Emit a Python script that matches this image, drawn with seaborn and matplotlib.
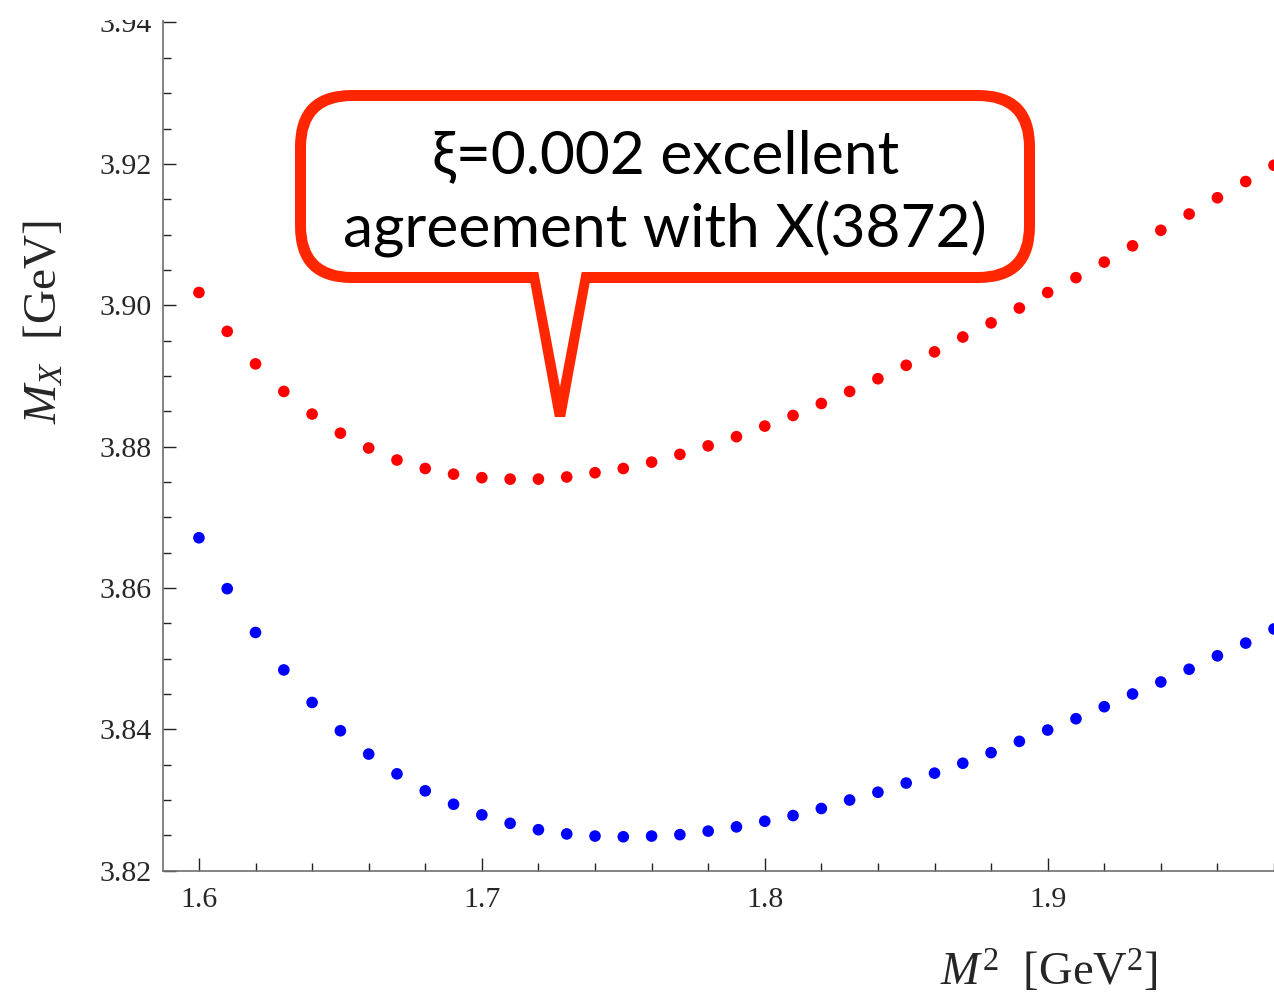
import matplotlib
matplotlib.use("Agg")
import matplotlib.pyplot as plt
import numpy as np
import pandas as pd
import seaborn as sns
from matplotlib.patches import FancyBboxPatch, Polygon
from matplotlib.transforms import Affine2D
from matplotlib.ticker import MultipleLocator, FormatStrFormatter

# Borel parameter M^2 [GeV^2]
m2 = [1.60, 1.61, 1.62, 1.63, 1.64, 1.65, 1.66, 1.67, 1.68, 1.69,
      1.70, 1.71, 1.72, 1.73, 1.74, 1.75, 1.76, 1.77, 1.78, 1.79,
      1.80, 1.81, 1.82, 1.83, 1.84, 1.85, 1.86, 1.87, 1.88, 1.89,
      1.90, 1.91, 1.92, 1.93, 1.94, 1.95, 1.96, 1.97, 1.98]

# Mass of X [GeV], upper (red) and lower (blue) curves
mx_red = [3.9018, 3.8963, 3.8917, 3.8878, 3.8846, 3.8819, 3.8798, 3.8781, 3.8769, 3.8761,
          3.8756, 3.8754, 3.8754, 3.8757, 3.8763, 3.8769, 3.8778, 3.8789, 3.8801, 3.8814,
          3.8829, 3.8844, 3.8861, 3.8878, 3.8896, 3.8915, 3.8934, 3.8955, 3.8975, 3.8996,
          3.9018, 3.9039, 3.9061, 3.9084, 3.9106, 3.9129, 3.9152, 3.9175, 3.9198]
mx_blue = [3.8671, 3.8599, 3.8537, 3.8484, 3.8438, 3.8398, 3.8365, 3.8337, 3.8313, 3.8294,
           3.8279, 3.8267, 3.8258, 3.8252, 3.8249, 3.8248, 3.8249, 3.8251, 3.8256, 3.8262,
           3.8270, 3.8278, 3.8288, 3.8300, 3.8311, 3.8324, 3.8338, 3.8352, 3.8367, 3.8383,
           3.8399, 3.8415, 3.8432, 3.8450, 3.8467, 3.8485, 3.8504, 3.8522, 3.8542]

series_names = ["upper", "lower"]
series_colors = {"upper": "#ff0000", "lower": "#0000ff"}

callout_line1 = "ξ=0.002 excellent"
callout_line2 = "agreement with X(3872)"

df = pd.concat([
    pd.DataFrame({"M2": m2, "MX": mx_red, "curve": series_names[0]}),
    pd.DataFrame({"M2": m2, "MX": mx_blue, "curve": series_names[1]}),
])

sns.set_style("ticks")
plt.rcParams["font.family"] = ["Liberation Serif", "DejaVu Serif"]
plt.rcParams["mathtext.fontset"] = "custom"
plt.rcParams["mathtext.rm"] = "Liberation Serif"
plt.rcParams["mathtext.it"] = "Liberation Serif:italic"

W, H = 1274, 996
fig = plt.figure(figsize=(W / 100, H / 100), dpi=100)
ax = fig.add_axes([163 / W, (H - 870.7) / H, (W - 163) / W, (870.7 - 20) / H])

sns.scatterplot(data=df, x="M2", y="MX", hue="curve", palette=series_colors,
                s=70, linewidth=0, legend=False, ax=ax, zorder=3)

ax.set_xlim(1.5873, 1.9800)
ax.set_ylim(3.82, 3.94035)
ax.set_xlabel("")
ax.set_ylabel("")

ax.xaxis.set_major_locator(MultipleLocator(0.1))
ax.xaxis.set_minor_locator(MultipleLocator(0.02))
ax.yaxis.set_major_locator(MultipleLocator(0.02))
ax.yaxis.set_minor_locator(MultipleLocator(0.005))
ax.xaxis.set_major_formatter(FormatStrFormatter("%.1f"))
ax.yaxis.set_major_formatter(FormatStrFormatter("%.2f"))

for side in ("top", "right"):
    ax.spines[side].set_visible(False)
for side in ("left", "bottom"):
    ax.spines[side].set_color("#6e6e6e")
    ax.spines[side].set_linewidth(1.2)

ax.tick_params(axis="both", which="both", direction="in", color="#222222",
               labelsize=21.5, width=1.0)
ax.tick_params(axis="both", which="major", length=9.5)
ax.tick_params(axis="both", which="minor", length=5.5)
ax.tick_params(axis="y", which="major", pad=8)
ax.tick_params(axis="x", which="major", pad=12)

fig.text(1049 / W, 1 - 972 / H, r"$M^2$  [GeV$^2$]", fontsize=33.5,
         ha="center", va="center")
fig.text(45 / W, 1 - 322 / H, r"$M_X$  [GeV]", fontsize=34,
         ha="center", va="center", rotation=90)

# Pixel coordinates (origin top-left) mapped onto the figure
px = Affine2D().scale(1, -1).translate(0, H).scale(1 / W, 1 / H) + fig.transFigure

callout_red = "#ff2600"
outer_box = FancyBboxPatch((295, 90), 740, 193,
                           boxstyle="round,pad=0,rounding_size=57",
                           facecolor=callout_red, edgecolor="none",
                           transform=px, zorder=10)
outer_tail = Polygon([(528, 270), (592, 270), (565.2, 417), (554.8, 417)],
                     closed=True, facecolor=callout_red, edgecolor="none",
                     transform=px, zorder=10)
inner_box = FancyBboxPatch((306, 101), 718, 171,
                           boxstyle="round,pad=0,rounding_size=46",
                           facecolor="white", edgecolor="none",
                           transform=px, zorder=11)
inner_tail = Polygon([(537, 265), (583, 265), (560, 387)],
                     closed=True, facecolor="white", edgecolor="none",
                     transform=px, zorder=11)
for p in (outer_box, outer_tail, inner_box, inner_tail):
    fig.patches.append(p)

fig.text(666 / W, 1 - 173 / H, callout_line1, fontsize=43.5, family=["Lato", "DejaVu Sans"],
         ha="center", va="baseline", color="black", zorder=12)
fig.text(665 / W, 1 - 248 / H, callout_line2, fontsize=43.5, family=["Lato", "DejaVu Sans"],
         ha="center", va="baseline", color="black", zorder=12)

# Plot frame is trimmed flush with the top of the vertical axis
fig.patches.append(plt.Rectangle((0, 0), W, 20, facecolor="white", edgecolor="none",
                                 transform=px, zorder=20))

fig.savefig("out.png", dpi=100)
